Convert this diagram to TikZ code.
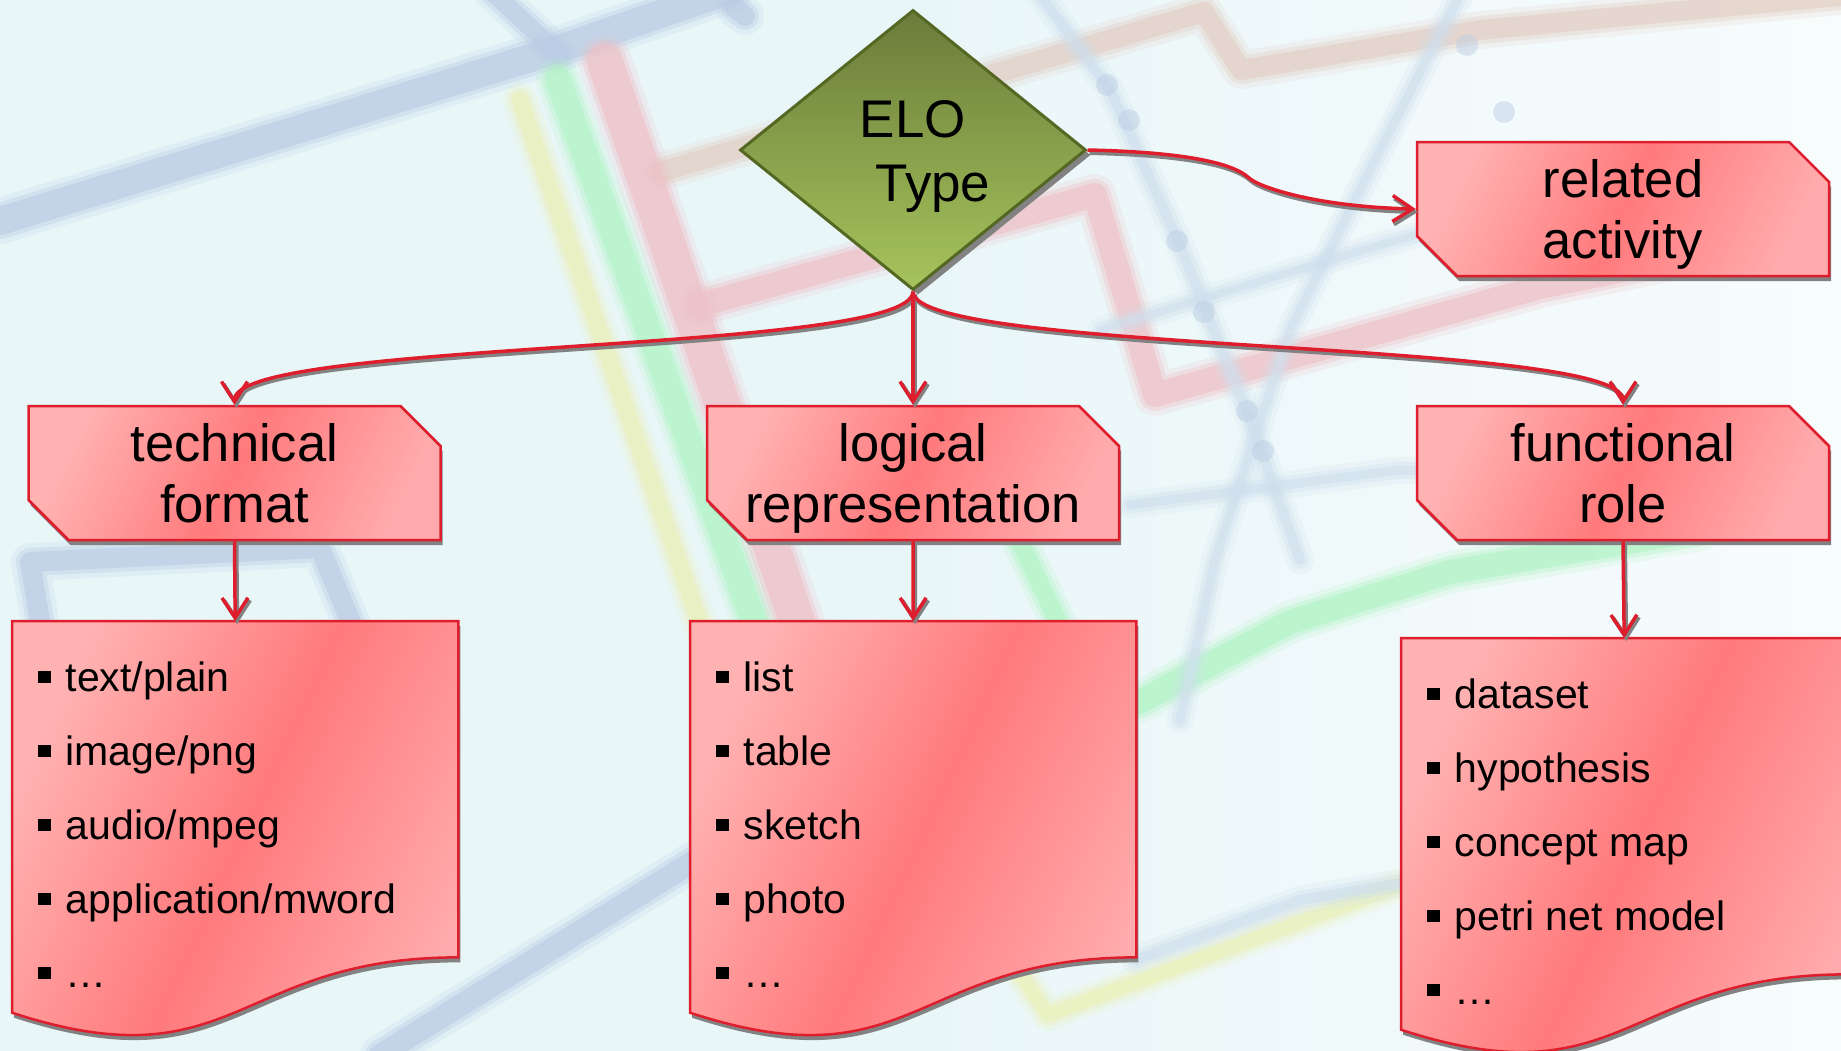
\documentclass[tikz,border=0pt]{standalone}
\usepackage{fontspec}
\setmainfont{Liberation Sans}
\usetikzlibrary{shapes.geometric,shapes.misc,arrows.meta,calc,shadows}
\definecolor{bgbase}{RGB}{233,246,248}
\definecolor{bgblue}{RGB}{186,204,228}
\definecolor{bggreen}{RGB}{176,244,196}
\definecolor{bgyellow}{RGB}{234,240,182}
\definecolor{bgpink}{RGB}{238,192,198}
\definecolor{bgtan}{RGB}{226,206,196}
\colorlet{bgbluefaint}{bgblue!55!bgbase}
\definecolor{connred}{RGB}{222,30,45}
\definecolor{boxlight}{RGB}{255,178,178}
\definecolor{boxmid}{RGB}{255,122,124}
\definecolor{boxright}{RGB}{255,170,172}
\definecolor{olivetop}{RGB}{106,124,58}
\definecolor{olivebot}{RGB}{166,196,92}
\definecolor{oliveline}{RGB}{84,104,36}
\definecolor{shadowgray}{RGB}{130,130,130}
\newcommand{\mytitlefont}{\fontsize{52.5pt}{61pt}\selectfont}
\newcommand{\mydiafont}{\fontsize{53pt}{64pt}\selectfont}
\newcommand{\myitemfont}{\fontsize{41pt}{49pt}\selectfont}
\newcommand{\bul}{\rule[8pt]{12.5pt}{12.5pt}\hspace{15pt}}
\newcommand{\bgline}[3]{%
  \draw[#1, line width=#2pt+18pt, opacity=.2, line cap=round, line join=round] #3;
  \draw[#1, line width=#2pt+8pt, opacity=.35, line cap=round, line join=round] #3;
  \draw[#1, line width=#2pt, opacity=.6, line cap=round, line join=round] #3;}
\newcommand{\docpath}[1]{(#1.north west) -- (#1.north east) -- ($(#1.north east)!0.802!(#1.south east)$) .. controls ($(#1.north)!0.802!(#1.south)$) and ($(#1.north)!1.1075!(#1.south)$) .. ($(#1.north west)!0.934!(#1.south west)$) -- cycle}
\tikzset{
  boxshade/.style={left color=boxlight, right color=boxright, middle color=boxmid, shading angle=65},
  titlebox/.style={chamfered rectangle, chamfered rectangle corners={north east,south west},
    chamfered rectangle xsep=23pt, chamfered rectangle ysep=17pt,
    minimum width=412pt, minimum height=134pt, inner sep=0pt,
    draw=connred, line width=2.5pt, boxshade,
    drop shadow={shadow xshift=2pt, shadow yshift=-5pt, fill=shadowgray, opacity=1},
    align=center, font=\mytitlefont, text height=99pt, text depth=0pt},
  docframe/.style={rectangle, draw=none, minimum width=446pt, minimum height=419pt, inner sep=0pt},
  docshape/.style={draw=connred, line width=2.5pt, boxshade,
    drop shadow={shadow xshift=2pt, shadow yshift=-5pt, fill=shadowgray, opacity=1}},
  item/.style={anchor=base west, inner sep=0pt, font=\myitemfont},
  lineshadow/.style={preaction={draw=shadowgray, line width=4pt, transform canvas={shift={(2pt,-3pt)}}}},
  conn/.style={draw=connred, line width=3.5pt, -{Straight Barb[length=20pt,width=26pt]}, lineshadow}
}
\begin{document}
\begin{tikzpicture}[x=1pt,y=-1pt]
\useasboundingbox (0,0) rectangle (1841,1050);
\fill[left color=bgbase, right color=bgbase!35!white, middle color=bgbase] (0,0) rectangle (1841,1050);
% background chart strokes
\bgline{bgblue}{28}{(0,221) -- (550,52) -- (730,-10)}
\bgline{bgblue}{18}{(490,-10) -- (560,55)}
\bgline{bgblue}{20}{(735,8) -- (745,16)}
\bgline{bgtan}{20}{(660,172) -- (1204,12) -- (1241,70) -- (1480,30) -- (1850,-5)}
\bgline{bgyellow}{16}{(520,100) -- (702,630)}
\bgline{bggreen}{26}{(558,80) -- (757,630)}
\bgline{bgpink}{36}{(605,62) -- (800,630)}
\bgline{bgpink}{24}{(700,305) -- (1095,195) -- (1155,395) -- (1540,287) -- (1720,250)}
\bgline{bggreen}{18}{(1000,500) -- (1062,630)}
\bgline{bggreen}{24}{(1139,702) -- (1290,622) -- (1450,572) -- (1700,530)}
\bgline{bgyellow}{14}{(1021,975) -- (1048,1015) -- (1400,885)}
\bgline{bgbluefaint}{10}{(1040,-5) -- (1110,90) -- (1180,245) -- (1250,420) -- (1300,560)}
\bgline{bgbluefaint}{9}{(1460,-5) -- (1380,150) -- (1290,330) -- (1215,560) -- (1180,720)}
\bgline{bgbluefaint}{9}{(1130,505) -- (1400,470) -- (1620,482)}
\bgline{bgbluefaint}{8}{(1100,330) -- (1380,245) -- (1650,170)}
\bgline{bgblue}{20}{(45,650) -- (30,562) -- (320,548) -- (352,625)}
\bgline{bgblue}{22}{(380,1055) -- (720,845)}
\bgline{bgbluefaint}{10}{(1135,960) -- (1300,900) -- (1420,880)}
\foreach \p in {(1107,85),(1129,120),(1177,241),(1204,312),(1247,411),(1263,451),(1467,45),(1504,112)}
  \fill[bgblue, opacity=.45] \p circle[radius=11pt];
% diamond
\node[diamond, minimum width=346pt, minimum height=280pt, inner sep=0pt,
  draw=oliveline, line width=3pt, top color=olivetop, bottom color=olivebot,
  drop shadow={shadow xshift=5pt, shadow yshift=-5pt, fill=shadowgray, opacity=1},
  align=center, font=\mydiafont, text height=102pt, text depth=0pt]
  (d) at (913,150) {ELO\\\hspace*{40pt}Type};
% title boxes
\node[titlebox] (ra) at (1623,209) {related\\activity};
\node[titlebox] (tf) at (234.5,473) {technical\\format};
\node[titlebox] (lr) at (913,473) {logical\\representation};
\node[titlebox] (fr) at (1623,473) {functional\\role};
% list frames
\node[docframe, anchor=north west] (tfl) at (12,621) {};
\node[docframe, anchor=north west] (lrl) at (690,621) {};
\node[docframe, anchor=north west] (frl) at (1401,638) {};
\path[docshape] \docpath{tfl};
\path[docshape] \docpath{lrl};
\path[docshape] \docpath{frl};
% list items
\foreach \t [count=\i] in {{text/plain},{image/png},{audio/mpeg},{application/mword},{…}}
  \node[item] (tfi\i) at (38,{691+74*(\i-1)}) {\bul\t};
\foreach \t [count=\i] in {{list},{table},{sketch},{photo},{…}}
  \node[item] (lri\i) at (716,{691+74*(\i-1)}) {\bul\t};
\foreach \t [count=\i] in {{dataset},{hypothesis},{concept map},{petri net model},{…}}
  \node[item] (fri\i) at (1427,{708+74*(\i-1)}) {\bul\t};
% connectors
\draw[conn] (d.south) .. controls +(0,63) and +(0,-66) .. (tf.north);
\draw[conn] (d.south) -- (lr.north);
\draw[conn] (d.south) .. controls +(0,63) and +(0,-66) .. (fr.north);
\draw[conn] (d.east) .. controls (1180,152) and (1232,162) .. (1249,178) .. controls (1260,188) and (1320,207) .. (ra.west);
\draw[conn] (tf.south) -- (tfl.north);
\draw[conn] (lr.south) -- (lrl.north);
\draw[conn] (fr.south) -- (frl.north);
\end{tikzpicture}
\end{document}
